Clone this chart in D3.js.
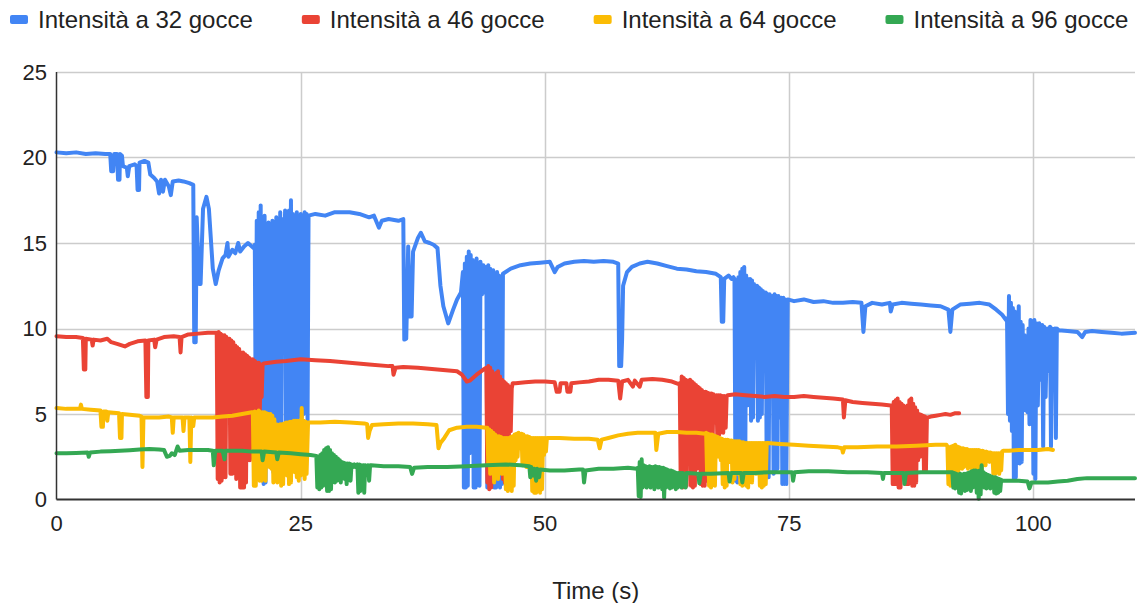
<!DOCTYPE html>
<html>
<head>
<meta charset="utf-8">
<script src="https://d3js.org/d3.v7.min.js"></script>
<style>
  body { margin: 0; background: #fff; }
  text { font-family: Arial, "Liberation Sans", sans-serif; fill: #222; }
</style>
</head>
<body>
<div id="chart"></div>
<script>
// ---- data: [time (s), intensity] ----
var intens32 = [
  [0,20.3],[1,20.25],[2,20.3],[3,20.2],[4,20.25],[5,20.2],[5.5,20.2],[5.6,19.2],[5.8,19.2],[5.9,20.2],[6.2,20.2],[6.3,18.7],[6.45,18.7],[6.5,20.2],[6.7,20.1],[6.8,19.5],[7.2,19.4],[7.3,18.9],[7.45,19.5],[8,19.6],[8.2,19.5],[8.3,18.1],[8.45,18.1],[8.5,19.7],[9,19.8],[9.4,19.7],[9.6,19.0],[10,18.8],[10.3,18.6],[10.5,17.9],[10.7,18.7],[10.9,18.0],[11.1,18.7],[11.5,18.3],[11.7,17.8],[11.9,18.6],[12.5,18.65],[13,18.6],[13.6,18.5],[14.0,18.4],[14.1,9.2],[14.25,9.2],[14.35,16.5],[14.6,12.6],[14.75,12.6],[15.0,17.0],[15.35,17.7],[15.6,17.0],[16.0,13.5],[16.3,12.6],[16.6,13.4],[17,14.1],[17.3,14.3],[17.5,15.0],[17.6,14.2],[18,14.6],[18.3,14.4],[18.6,15.0],[18.8,14.5],[19.2,14.8],[19.6,15.0],[20,14.8],[20.2,14.7],
  [20.3,14.9],[20.4,4.0],[20.5,16.3],[20.6,4.5],[20.7,16.8],[20.8,3.0],[20.9,17.2],[21.0,5.0],[21.1,16.5],[21.2,0.9],[21.3,16.6],[21.4,1.0],[21.5,16.0],[21.6,6.0],[21.7,16.2],[21.8,4.0],[21.9,15.8],[22.0,9.0],[22.1,16.3],[22.2,1.6],[22.3,16.0],[22.4,1.5],[22.5,16.5],[22.6,8.0],[22.7,16.2],[22.8,4.5],[22.9,16.8],[23.0,2.0],[23.1,16.4],[23.25,12.0],[23.4,16.9],[23.5,2.0],[23.6,16.5],[23.7,3.0],[23.8,16.9],[23.9,10.0],[24.0,17.5],[24.1,4.5],[24.2,16.7],[24.3,2.5],[24.4,16.5],[24.5,5.0],[24.6,16.8],[24.7,4.5],[24.8,16.5],[24.9,5.0],[25.0,16.7],[25.1,4.8],[25.2,16.6],[25.3,5.0],[25.4,16.8],[25.5,5.2],[25.6,16.7],[25.7,4.6],[25.8,16.6],
  [26.5,16.7],[27.5,16.6],[28.5,16.8],[30,16.8],[31,16.7],[32,16.5],[32.5,16.6],[33,15.9],[33.3,16.3],[34,16.4],[35,16.3],[35.5,16.4],[35.6,9.35],[35.8,9.4],[36.0,14.8],[36.2,10.7],[36.35,10.7],[36.5,14.5],[37,15.3],[37.3,15.6],[37.7,15.1],[38.2,15.0],[38.6,14.9],[39.0,14.7],[39.3,12.5],[39.6,11.3],[40.1,10.3],[40.6,11.1],[41.0,11.7],[41.4,12.1],
  [41.6,13.3],[41.7,0.7],[41.8,13.8],[41.9,0.7],[42.0,14.2],[42.1,0.8],[42.2,14.5],[42.3,2.7],[42.4,14.3],[42.5,2.8],[42.6,14.0],[42.7,0.7],[42.8,13.9],[42.9,0.7],[43.0,14.1],[43.1,2.0],[43.2,13.8],[43.3,0.8],[43.4,13.9],[43.55,12.0],[43.7,13.7],[43.85,12.1],[44.0,13.6],[44.1,0.7],[44.2,13.7],[44.3,0.8],[44.4,13.5],[44.55,12.6],[44.7,13.4],[44.8,0.7],[44.9,13.2],[45.0,0.7],[45.1,13.3],[45.2,0.8],[45.3,13.1],[45.4,0.7],[45.5,13.0],[45.6,0.9],[45.7,13.2],
  [46.5,13.5],[47.5,13.7],[48.5,13.8],[49.5,13.85],[50.5,13.9],[51,13.3],[51.3,13.6],[52,13.8],[53,13.9],[54,13.95],[55,13.9],[56,13.95],[57,13.9],[57.5,13.8],[57.6,7.8],[57.8,7.8],[57.9,9.4],[58.0,12.5],[58.4,13.3],[58.9,13.6],[59.7,13.8],[60.5,13.9],[61.5,13.8],[62.5,13.65],[63.5,13.5],[64.5,13.45],[65.5,13.35],[66.5,13.3],[67.5,13.2],[68.0,13.0],[68.1,10.4],[68.25,10.4],[68.35,12.9],[68.8,13.1],[69.1,12.9],[69.3,13.0],
  [69.4,12.9],[69.5,1.1],[69.6,12.7],[69.7,1.0],[69.8,13.0],[69.9,1.1],[70.0,13.3],[70.1,1.0],[70.2,13.5],[70.3,5.0],[70.4,13.6],[70.5,1.5],[70.6,13.1],[70.7,5.5],[70.8,12.9],[70.9,6.0],[71.0,12.9],[71.1,4.6],[71.2,12.8],[71.3,4.8],[71.4,12.6],[71.55,10.6],[71.7,12.5],[71.8,4.6],[71.9,12.4],[72.0,4.8],[72.1,12.3],[72.2,5.0],[72.3,12.2],[72.45,8.1],[72.6,12.1],[72.7,1.5],[72.8,12.0],[72.9,1.3],[73.0,12.0],[73.15,6.5],[73.3,11.9],[73.4,1.5],[73.5,12.0],[73.6,1.6],[73.7,11.9],[73.8,1.8],[73.9,11.9],[74.05,4.8],[74.2,11.8],[74.3,0.9],[74.4,11.8],[74.5,0.9],[74.6,11.7],[74.7,0.9],[74.85,11.7],
  [75.5,11.6],[76.5,11.7],[77.5,11.55],[78.5,11.6],[79.5,11.5],[80.5,11.5],[81.5,11.55],[82.4,11.5],[82.6,9.8],[82.8,11.3],[83.5,11.5],[84.5,11.4],[85.3,11.5],[85.4,11.0],[85.6,11.4],[86.5,11.5],[87.5,11.45],[88.5,11.4],[89.5,11.35],[90.5,11.3],[91.3,11.1],[91.5,9.8],[91.7,11.1],[92.5,11.4],[93.5,11.45],[94.5,11.5],[95.5,11.4],[96.2,11.1],[96.8,10.8],[97.2,10.5],
  [97.3,10.6],[97.4,5.0],[97.5,11.9],[97.6,4.6],[97.7,11.5],[97.8,4.0],[97.9,11.2],[98.0,1.2],[98.1,11.0],[98.2,1.3],[98.3,10.6],[98.4,5.5],[98.5,11.3],[98.6,2.1],[98.7,10.4],[98.8,2.2],[98.9,10.2],[99.0,5.5],[99.1,9.6],[99.2,5.2],[99.3,9.5],[99.4,5.1],[99.5,10.0],[99.6,4.4],[99.7,10.5],[99.8,5.0],[99.9,10.4],[100.0,1.5],[100.1,10.5],[100.2,1.2],[100.3,10.3],[100.45,5.5],[100.6,10.3],[100.75,7.0],[100.9,10.2],[101.0,3.1],[101.1,10.1],[101.25,6.0],[101.4,10.0],[101.6,7.5],[101.7,10.1],[101.8,3.1],[101.9,10.0],[102.05,9.6],[102.2,10.0],[102.3,3.6],[102.4,10.0],
  [102.6,9.9],[103.5,9.85],[104.5,9.8],[105,9.5],[105.3,9.8],[106,9.85],[107,9.8],[108,9.75],[109,9.7],[110.4,9.75]
];

var intens46 = [
  [0,9.55],[1,9.5],[2,9.5],[2.7,9.45],[2.8,7.6],[2.95,7.6],[3.0,9.4],[3.6,9.35],[3.7,9.0],[3.8,9.35],[4.5,9.3],[5.2,9.4],[5.6,9.2],[6.2,9.1],[7.0,8.95],[7.5,9.1],[8.3,9.25],[9.1,9.3],[9.2,6.0],[9.35,6.0],[9.4,9.3],[10.0,9.35],[10.1,8.9],[10.25,9.35],[11.0,9.5],[12.0,9.55],[12.6,9.5],[12.7,8.6],[12.8,9.5],[13.5,9.65],[14.5,9.7],[15.5,9.75],[16.3,9.75],
  [16.4,9.75],[16.5,1.2],[16.6,9.8],[16.7,1.0],[16.8,9.7],[16.9,1.1],[17.0,9.6],[17.1,1.3],[17.2,9.6],[17.3,1.3],[17.4,9.5],[17.55,7.2],[17.7,9.4],[17.8,1.5],[17.9,9.3],[18.0,1.5],[18.1,9.2],[18.2,2.5],[18.3,9.0],[18.4,1.2],[18.5,8.9],[18.6,3.0],[18.7,8.8],[18.8,0.7],[18.9,8.6],[19.0,0.7],[19.1,8.6],[19.2,0.7],[19.3,8.5],[19.4,1.0],[19.5,8.4],[19.6,2.3],[19.7,8.3],[19.8,2.3],[19.9,8.2],[20.0,2.5],[20.1,8.2],[20.2,3.0],[20.3,8.1],[20.4,3.5],[20.5,8.0],[20.6,4.0],[20.7,8.0],[20.8,5.0],[20.9,7.9],[21.0,6.0],[21.1,7.9],
  [21.2,7.95],[22.5,8.05],[23.5,8.1],[25,8.2],[26.5,8.15],[28,8.1],[30,8.0],[32,7.9],[34,7.8],[34.4,7.8],[34.5,7.3],[34.7,7.7],[35.5,7.75],[37,7.7],[39,7.6],[41,7.5],[41.5,7.3],[42,6.9],[42.3,6.95],[43,7.3],[43.7,7.6],
  [44.0,7.7],[44.1,1.0],[44.2,7.8],[44.3,0.6],[44.4,7.7],[44.5,0.7],[44.6,7.5],[44.7,2.5],[44.8,7.3],[44.9,5.0],[45.0,7.4],[45.1,2.0],[45.2,7.5],[45.3,1.9],[45.4,7.2],[45.5,4.0],[45.6,7.0],[45.7,1.2],[45.8,6.9],[45.9,1.0],[46.0,6.8],[46.1,1.5],[46.2,6.7],[46.3,3.5],[46.4,6.6],[46.5,4.0],[46.6,6.5],[46.7,6.8],
  [47,6.8],[48,6.85],[49,6.9],[50,6.9],[51,6.85],[51.2,6.3],[51.5,6.3],[51.6,6.8],[52.2,6.8],[52.3,6.3],[52.6,6.3],[52.7,6.8],[53.5,6.85],[54.5,6.9],[55.5,7.0],[56.5,7.0],[57.5,6.95],[57.7,5.9],[57.9,6.9],[58.5,7.0],[59,6.6],[59.2,6.95],[59.7,6.6],[59.9,7.0],[61,7.05],[62,7.0],[63,6.9],[63.7,6.75],
  [63.8,6.8],[63.9,0.8],[64.0,7.2],[64.1,0.7],[64.2,7.1],[64.3,0.8],[64.4,7.0],[64.5,0.8],[64.6,6.95],[64.7,3.7],[64.85,7.0],[64.95,0.8],[65.05,6.9],[65.15,0.7],[65.25,6.8],[65.35,0.8],[65.45,6.7],[65.55,1.8],[65.65,6.6],[65.75,2.0],[65.85,6.5],[65.95,0.9],[66.05,6.4],[66.15,0.8],[66.25,6.3],[66.35,0.8],[66.45,6.3],[66.55,1.1],[66.65,6.25],[66.75,2.0],[66.85,6.2],[66.95,2.5],[67.05,6.2],[67.15,3.0],[67.25,6.15],[67.4,4.5],[67.55,6.1],[67.65,3.5],[67.75,6.1],[67.85,3.8],[67.95,6.1],[68.05,4.0],[68.15,6.05],[68.25,3.9],[68.35,6.05],[68.5,4.2],[68.6,6.05],
  [68.7,6.1],[69.5,6.15],[70.5,6.1],[71.5,6.05],[72.5,6.0],[73.5,6.05],[74.5,6.0],[75.5,6.0],[76.5,6.05],[77.5,6.0],[78.5,5.95],[79.5,5.9],[80.5,5.85],[80.6,4.8],[80.75,5.8],[81.5,5.7],[82.5,5.65],[83.5,5.6],[84.5,5.55],[85.4,5.5],
  [85.5,5.5],[85.6,0.9],[85.7,5.7],[85.8,0.9],[85.9,5.8],[86.0,0.9],[86.1,5.9],[86.2,0.7],[86.3,5.7],[86.4,0.7],[86.5,5.6],[86.6,1.6],[86.7,5.5],[86.8,2.0],[86.9,5.4],[87.0,0.9],[87.1,5.5],[87.2,0.9],[87.3,5.8],[87.4,1.5],[87.5,5.9],[87.6,0.8],[87.7,5.6],[87.8,0.8],[87.9,5.4],[88.0,1.0],[88.1,5.2],[88.2,2.3],[88.3,5.0],[88.4,2.5],[88.5,4.95],[88.6,3.0],[88.7,4.9],[88.8,1.7],[88.9,4.85],[89.0,1.7],[89.1,4.8],[89.2,4.8],
  [89.5,4.85],[90,4.9],[90.5,4.95],[91,5.0],[91.5,4.95],[92,5.05],[92.4,5.05]
];

var intens64 = [
  [0,5.35],[1,5.3],[2,5.3],[2.4,5.3],[2.5,5.55],[2.6,5.3],[3.5,5.25],[4.5,5.2],[4.6,4.25],[4.75,4.25],[4.8,5.15],[5.1,5.15],[5.2,4.6],[5.3,5.1],[6.4,5.05],[6.5,3.6],[6.65,3.6],[6.7,5.0],[7.5,4.95],[8.5,4.9],[8.7,4.85],[8.8,1.9],[8.9,4.8],[9.5,4.8],[10.5,4.8],[11.5,4.85],[11.8,4.8],[11.9,3.9],[12.0,4.8],[12.9,4.8],[13.0,4.0],[13.1,4.8],[13.6,4.8],[13.7,2.2],[13.8,4.8],[14.0,4.3],[14.1,4.8],[15,4.8],[16,4.8],[17,4.85],[18,4.9],[19,5.0],[20,5.1],
  [20.1,5.1],[20.2,0.8],[20.3,5.15],[20.4,0.8],[20.5,5.1],[20.6,2.5],[20.7,5.2],[20.8,1.1],[20.9,5.1],[21.0,1.1],[21.1,5.1],[21.2,1.2],[21.3,5.1],[21.4,1.1],[21.5,5.05],[21.6,3.5],[21.7,5.0],[21.8,1.9],[21.9,5.0],[22.0,1.8],[22.1,4.9],[22.2,1.0],[22.3,4.7],[22.4,1.1],[22.5,4.4],[22.6,1.0],[22.7,4.35],[22.8,1.2],[22.9,4.4],[23.0,0.8],[23.1,4.4],[23.2,0.9],[23.3,4.45],[23.4,1.5],[23.5,4.5],[23.6,1.4],[23.7,4.5],[23.8,0.9],[23.9,4.55],[24.0,1.0],[24.1,4.55],[24.2,1.8],[24.3,4.6],[24.4,1.6],[24.5,4.6],[24.6,1.3],[24.7,4.6],[24.8,1.1],[24.9,4.6],[25.0,1.4],[25.1,5.35],[25.2,1.5],[25.3,4.6],[25.4,1.2],[25.5,4.55],[25.6,1.5],[25.75,4.5],
  [25.8,4.5],[27,4.5],[28.5,4.55],[30,4.5],[31.5,4.45],[31.8,4.4],[31.9,3.6],[32.05,4.0],[32.3,4.35],[33.5,4.4],[35,4.45],[36.5,4.45],[38,4.4],[38.9,4.35],[39.1,3.0],[39.3,3.3],[39.7,3.6],[40.2,4.05],[41,4.2],[42,4.25],[43,4.25],[44,4.2],
  [44.1,4.2],[44.2,2.0],[44.3,4.1],[44.4,1.5],[44.5,4.0],[44.6,2.8],[44.7,3.9],[44.8,1.0],[44.9,3.8],[45.0,2.5],[45.1,3.7],[45.2,1.2],[45.3,3.7],[45.4,2.5],[45.5,3.65],[45.6,1.5],[45.7,3.6],[45.8,2.2],[45.9,3.6],[46.0,0.6],[46.1,3.6],[46.2,0.5],[46.3,3.6],[46.4,0.6],[46.5,3.65],[46.6,0.5],[46.7,3.7],[46.8,0.8],[46.9,3.8],[47.0,2.3],[47.1,3.85],[47.2,2.5],[47.3,3.9],[47.45,3.0],[47.6,3.85],[47.7,2.0],[47.8,3.8],[47.9,2.8],[48.0,3.7],[48.1,1.9],[48.2,3.7],[48.3,1.9],[48.4,3.65],[48.5,1.9],[48.6,3.6],[48.7,0.5],[48.8,3.6],[48.9,0.4],[49.0,3.6],[49.1,0.4],[49.2,3.6],[49.3,0.5],[49.4,3.6],[49.5,0.4],[49.6,3.6],[49.7,0.6],[49.8,3.6],[49.9,2.6],[50.0,3.6],[50.1,2.8],[50.2,3.6],
  [50.3,3.6],[51.5,3.6],[53,3.55],[54.5,3.55],[55.4,3.5],[55.6,3.0],[55.8,3.5],[56.5,3.6],[57.5,3.75],[58.5,3.85],[59.5,3.9],[60.5,3.9],[61.3,3.9],[61.4,2.9],[61.6,3.85],[62.5,3.95],[63.5,3.95],[64.5,3.9],[65.5,3.9],[66.4,3.85],
  [66.5,3.9],[66.6,1.5],[66.7,3.85],[66.8,0.8],[66.9,3.8],[67.0,0.7],[67.1,3.8],[67.2,1.1],[67.3,3.75],[67.4,0.8],[67.5,3.7],[67.6,2.8],[67.7,3.65],[67.8,2.5],[67.9,3.6],[68.0,2.3],[68.1,3.55],[68.2,0.9],[68.3,3.5],[68.4,0.7],[68.5,3.5],[68.6,0.8],[68.7,3.5],[68.8,2.3],[68.9,3.45],[69.0,2.2],[69.1,3.45],[69.2,1.0],[69.3,3.4],[69.4,1.2],[69.5,3.4],[69.6,2.0],[69.7,3.4],[69.8,1.5],[69.9,3.4],[70.0,0.9],[70.1,3.35],[70.2,0.8],[70.3,3.35],[70.4,1.7],[70.5,3.3],[70.6,0.8],[70.7,3.3],[70.8,0.7],[70.9,3.3],[71.0,2.5],[71.1,3.3],[71.2,1.0],[71.3,3.3],[71.4,2.0],[71.5,3.3],[71.6,1.5],[71.7,3.3],[71.8,2.4],[71.9,3.3],[72.0,0.8],[72.1,3.3],[72.2,0.7],[72.3,3.3],[72.4,0.8],[72.5,3.3],[72.6,0.9],[72.7,3.3],
  [72.8,3.3],[74,3.25],[75.5,3.2],[77,3.15],[78.5,3.1],[80,3.05],[80.4,3.0],[80.5,2.75],[80.65,3.05],[82,3.05],[84,3.1],[86,3.1],[88,3.15],[90,3.2],[91.1,3.2],
  [91.2,3.1],[91.3,0.9],[91.4,3.05],[91.5,0.8],[91.6,3.1],[91.7,0.9],[91.8,3.15],[91.9,1.5],[92.0,3.2],[92.1,1.6],[92.2,3.1],[92.3,1.5],[92.4,3.05],[92.5,2.2],[92.6,3.0],[92.7,1.8],[92.8,3.0],[92.9,1.9],[93.0,2.95],[93.1,2.1],[93.2,2.95],[93.3,1.8],[93.4,2.9],[93.5,1.9],[93.6,2.9],[93.7,1.8],[93.8,2.9],[93.9,2.0],[94.0,2.9],[94.1,1.0],[94.2,2.9],[94.3,2.2],[94.4,2.9],[94.5,1.7],[94.6,2.85],[94.7,1.6],[94.8,2.85],[94.9,2.3],[95.0,2.8],[95.1,2.0],[95.2,2.8],[95.3,2.3],[95.4,2.75],[95.5,2.2],[95.6,2.75],[95.7,2.4],[95.8,2.7],[95.9,1.5],[96.0,2.7],[96.1,1.5],[96.2,2.7],[96.3,1.6],[96.4,2.7],[96.5,1.5],[96.6,2.7],[96.7,1.7],[96.8,2.8],
  [96.9,2.85],[97.5,2.85],[98.5,2.9],[99.5,2.9],[100.5,2.9],[101.5,2.95],[102,2.9]
];

var intens96 = [
  [0,2.7],[1,2.7],[2,2.72],[3.2,2.75],[3.3,2.5],[3.45,2.75],[4.5,2.8],[5.5,2.82],[6.5,2.85],[7.5,2.88],[8.5,2.92],[9.5,2.95],[10.5,2.93],[11.0,2.9],[11.3,2.5],[11.6,2.55],[11.8,2.7],[12.1,2.6],[12.4,3.1],[12.6,2.85],[13.5,2.9],[14.5,2.9],[15.5,2.9],[16.0,2.85],[16.1,2.0],[16.25,2.85],[17.0,2.85],[17.2,2.35],[17.3,2.85],[18,2.85],[19,2.85],[20,2.8],[21.0,2.8],[21.1,2.3],[21.25,2.8],[22.5,2.75],[22.6,2.35],[22.75,2.75],[24,2.7],[25,2.65],[26,2.6],
  [26.6,2.55],[26.7,0.7],[26.8,2.5],[26.9,0.6],[27.0,2.6],[27.1,0.7],[27.2,2.7],[27.3,0.8],[27.4,2.9],[27.5,1.6],[27.6,3.0],[27.7,0.5],[27.8,3.05],[27.9,0.5],[28.0,2.9],[28.1,0.6],[28.2,2.7],[28.3,1.1],[28.4,2.6],[28.5,1.0],[28.6,2.5],[28.7,1.1],[28.8,2.4],[28.9,1.2],[29.0,2.3],[29.1,1.0],[29.2,2.2],[29.3,1.5],[29.4,2.15],[29.5,1.2],[29.6,2.1],[29.7,0.9],[29.8,2.1],[29.9,1.8],[30.0,2.1],[30.1,1.1],[30.2,2.05],[30.35,1.9],[30.5,2.05],[30.6,1.9],[30.8,2.05],[30.9,0.4],[31.0,2.05],[31.1,0.5],[31.2,2.0],[31.3,1.7],[31.4,2.0],[31.5,0.4],[31.6,2.0],[31.75,1.8],[31.9,2.0],[32.0,1.1],[32.1,2.0],
  [32.2,2.0],[33.5,1.95],[35,1.95],[36.2,1.9],[36.4,1.5],[36.6,1.85],[38,1.9],[40,1.9],[42,1.95],[44,2.0],[46,2.05],[47.5,2.0],[48.4,1.95],[48.5,1.3],[48.6,1.9],[48.8,1.4],[48.9,1.8],[49.1,1.1],[49.2,1.8],[49.4,1.3],[49.5,1.75],[50.5,1.7],[52,1.7],[53.5,1.75],[53.9,1.75],[54.0,1.0],[54.15,1.7],[55.5,1.8],[57,1.8],[58.5,1.85],[59.4,1.8],
  [59.5,1.85],[59.6,0.2],[59.7,2.2],[59.8,0.15],[59.9,2.35],[60.0,0.7],[60.1,2.0],[60.2,0.8],[60.3,1.95],[60.4,0.7],[60.5,1.9],[60.6,1.0],[60.7,1.95],[60.8,0.7],[60.9,1.9],[61.0,0.9],[61.1,1.9],[61.2,0.6],[61.3,1.95],[61.4,0.8],[61.5,1.9],[61.6,0.7],[61.7,1.9],[61.8,0.9],[61.9,1.85],[62.0,0.6],[62.1,1.85],[62.2,0.1],[62.3,1.8],[62.4,0.7],[62.5,1.75],[62.6,0.8],[62.7,1.7],[62.8,0.65],[62.9,1.7],[63.0,0.7],[63.1,1.65],[63.2,0.8],[63.3,1.6],[63.4,0.6],[63.5,1.55],[63.6,0.7],[63.7,1.55],[63.8,0.9],[63.9,1.55],[64.0,0.7],[64.1,1.55],[64.2,0.8],[64.3,1.5],[64.4,0.7],[64.5,1.55],
  [64.6,1.55],[65.7,1.5],[65.8,0.95],[65.95,1.5],[67,1.5],[68.8,1.55],[68.9,1.05],[69.05,1.55],[70.1,1.55],[70.2,1.0],[70.35,1.55],[71.5,1.55],[73,1.6],[74.5,1.6],[75.3,1.6],[75.4,1.1],[75.55,1.6],[77,1.65],[79,1.65],[81,1.6],[83,1.6],[84.5,1.55],[84.6,1.2],[84.7,1.55],[86.7,1.55],[86.8,0.9],[86.95,1.55],[88.5,1.6],[90,1.6],[91.6,1.6],
  [91.7,1.6],[91.8,0.7],[91.9,1.55],[92.0,0.65],[92.1,1.5],[92.2,0.9],[92.3,1.45],[92.4,0.4],[92.5,1.5],[92.6,0.35],[92.7,1.45],[92.8,0.6],[92.9,1.5],[93.0,0.5],[93.1,1.5],[93.2,0.55],[93.3,1.55],[93.4,0.8],[93.5,1.6],[93.6,0.5],[93.7,1.65],[93.8,0.7],[93.9,1.7],[94.0,0.9],[94.1,1.7],[94.2,0.4],[94.3,1.65],[94.4,0.05],[94.5,1.7],[94.6,0.3],[94.7,2.0],[94.8,0.8],[94.9,1.6],[95.0,0.7],[95.1,1.5],[95.2,0.65],[95.3,1.45],[95.4,0.7],[95.5,1.4],[95.6,0.65],[95.7,1.35],[95.8,0.9],[95.9,1.3],[96.0,0.4],[96.1,1.3],[96.2,0.35],[96.3,1.25],[96.4,0.4],[96.5,1.2],[96.6,0.5],[96.7,1.15],
  [96.8,1.1],[97.5,1.1],[98.5,1.1],[99.4,1.05],[99.6,0.65],[99.8,1.0],[100.5,1.0],[101.5,1.0],[102.5,1.05],[103.5,1.1],[104.5,1.2],[105.5,1.25],[107,1.25],[108.5,1.25],[110.4,1.25]
];

var seriesNames = ["Intensità a 32 gocce", "Intensità a 46 gocce", "Intensità a 64 gocce", "Intensità a 96 gocce"];
var seriesColors = ["#4285f4", "#ea4335", "#fbbc04", "#34a853"];
var seriesData = [intens32, intens46, intens64, intens96];
var xTicks = [0, 25, 50, 75, 100];
var yTicks = [0, 5, 10, 15, 20, 25];

// ---- layout ----
var width = 1137, height = 603;
var plot = {left: 56.5, right: 1135, top: 72, bottom: 499.5};

var svg = d3.select("#chart").append("svg")
    .attr("width", width)
    .attr("height", height);

var x = d3.scaleLinear().domain([0, 110.4]).range([plot.left, plot.right]);
var y = d3.scaleLinear().domain([0, 25]).range([plot.bottom, plot.top]);

// gridlines
svg.append("g")
  .selectAll("line")
  .data(yTicks.filter(function(d) { return d > 0; }))
  .enter().append("line")
    .attr("x1", plot.left).attr("x2", plot.right)
    .attr("y1", function(d) { return Math.round(y(d)) + 0.5; })
    .attr("y2", function(d) { return Math.round(y(d)) + 0.5; })
    .attr("stroke", "#cccccc").attr("stroke-width", 1.5);

svg.append("g")
  .selectAll("line")
  .data(xTicks.filter(function(d) { return d > 0; }))
  .enter().append("line")
    .attr("y1", plot.top).attr("y2", plot.bottom)
    .attr("x1", function(d) { return Math.round(x(d)) + 0.5; })
    .attr("x2", function(d) { return Math.round(x(d)) + 0.5; })
    .attr("stroke", "#cccccc").attr("stroke-width", 1.5);

// series (first series underneath, like the original)
var line = d3.line()
    .x(function(d) { return x(d[0]); })
    .y(function(d) { return y(d[1]); });

svg.append("g")
  .selectAll("path")
  .data(seriesData)
  .enter().append("path")
    .attr("d", line)
    .attr("fill", "none")
    .attr("stroke", function(d, i) { return seriesColors[i]; })
    .attr("stroke-width", 4)
    .attr("stroke-linejoin", "round")
    .attr("stroke-linecap", "round");

// axis lines
svg.append("line")
    .attr("x1", plot.left).attr("x2", plot.left)
    .attr("y1", plot.top).attr("y2", plot.bottom)
    .attr("stroke", "#333").attr("stroke-width", 1.5);
svg.append("line")
    .attr("x1", plot.left).attr("x2", plot.right)
    .attr("y1", plot.bottom).attr("y2", plot.bottom)
    .attr("stroke", "#333").attr("stroke-width", 2);

// tick labels
svg.append("g")
  .selectAll("text")
  .data(yTicks)
  .enter().append("text")
    .attr("x", 47)
    .attr("y", function(d) { return y(d); })
    .attr("dy", "0.36em")
    .attr("text-anchor", "end")
    .style("font-size", "22px")
    .text(function(d) { return d; });

svg.append("g")
  .selectAll("text")
  .data(xTicks)
  .enter().append("text")
    .attr("x", function(d) { return x(d); })
    .attr("y", 531)
    .attr("text-anchor", "middle")
    .style("font-size", "22px")
    .text(function(d) { return d; });

svg.append("text")
    .attr("x", (plot.left + plot.right) / 2)
    .attr("y", 599)
    .attr("text-anchor", "middle")
    .style("font-size", "24px")
    .text("Time (s)");

// legend
var legend = svg.append("g");
var lx = 10;
seriesNames.forEach(function(name, i) {
  legend.append("rect")
      .attr("x", lx).attr("y", 15)
      .attr("width", 18).attr("height", 9)
      .attr("rx", 2)
      .attr("fill", seriesColors[i]);
  var t = legend.append("text")
      .attr("x", lx + 28).attr("y", 28)
      .style("font-size", "24px")
      .text(name);
  lx += 28 + t.node().getComputedTextLength() + 49;
});
</script>
</body>
</html>
